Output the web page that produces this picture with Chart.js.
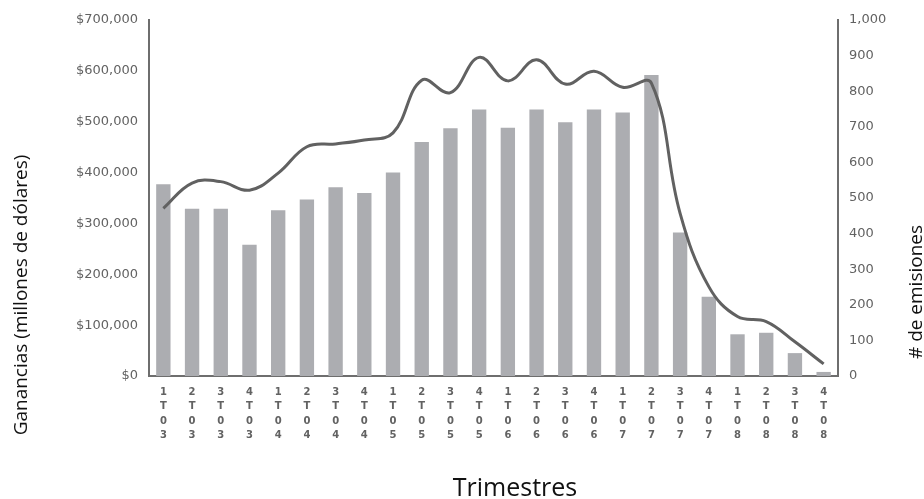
<!DOCTYPE html>
<html>
<head>
<meta charset="utf-8">
<script src="https://cdn.jsdelivr.net/npm/chart.js@4"></script>
<style>
  html, body { margin: 0; padding: 0; background: #fff; }
  canvas { display: block; }
</style>
</head>
<body>
<canvas id="chart" width="924" height="499"></canvas>
<script>
let trimestres = [
  "1T03", "2T03", "3T03", "4T03", "1T04", "2T04", "3T04", "4T04",
  "1T05", "2T05", "3T05", "4T05", "1T06", "2T06", "3T06", "4T06",
  "1T07", "2T07", "3T07", "4T07", "1T08", "2T08", "3T08", "4T08",
];
// ganancias en dólares (barras, eje izquierdo)
let ganancias = [
  377000, 329000, 329000, 258000, 326000, 347000, 371000, 360000,
  400000, 460000, 487000, 524000, 488000, 524000, 499000, 524000,
  518000, 592000, 282000, 156000, 82000, 85000, 45000, 8000,
];
// número de emisiones (línea, eje derecho)
let emisiones = [
  471, 542, 546, 522, 570, 644, 652, 663,
  683, 831, 796, 895, 829, 888, 820, 856,
  811, 823, 457, 251, 167, 153, 96, 34,
];
let ticksGanancias = [0, 100000, 200000, 300000, 400000, 500000, 600000, 700000];
let ticksEmisiones = [0, 100, 200, 300, 400, 500, 600, 700, 800, 900, 1000];

let tituloIzq = "Ganancias (millones de dólares)";
let tituloDer = "# de emisiones";
let tituloX = "Trimestres";

const axisColor = "#6e6e6e";
const tickColor = "#626262";

// each quarter label is stacked one character per line
const xLabels = trimestres.map((t) => t.split(""));

// axis titles sit apart from the plot, drawn after the chart
const axisTitles = {
  id: "axisTitles",
  afterDraw(chart) {
    const ctx = chart.ctx;
    ctx.save();
    ctx.fillStyle = "#111";
    ctx.font = "19px 'Open Sans'";
    ctx.textAlign = "center";
    ctx.textBaseline = "middle";

    ctx.save();
    ctx.translate(22, 295);
    ctx.rotate(-Math.PI / 2);
    ctx.fillText(tituloIzq, 0, 0);
    ctx.restore();

    ctx.save();
    ctx.translate(917, 292);
    ctx.rotate(-Math.PI / 2);
    ctx.fillText(tituloDer, 0, 0);
    ctx.restore();

    ctx.font = "25px 'Open Sans'";
    ctx.fillText(tituloX, 515, 489);
    ctx.restore();
  },
};

new Chart(document.getElementById("chart"), {
  type: "bar",
  data: {
    labels: xLabels,
    datasets: [
      {
        type: "line",
        label: tituloDer,
        data: emisiones,
        yAxisID: "y1",
        borderColor: "#616161",
        borderWidth: 3,
        pointRadius: 0,
        tension: 0.4,
        fill: false,
        order: 0,
      },
      {
        type: "bar",
        label: tituloIzq,
        data: ganancias,
        yAxisID: "y",
        backgroundColor: "#acadb1",
        borderWidth: 0,
        barPercentage: 0.5,
        categoryPercentage: 1.0,
        order: 1,
      },
    ],
  },
  options: {
    responsive: false,
    animation: false,
    layout: { padding: { top: 20, left: 0, right: 0, bottom: 0 } },
    plugins: {
      legend: { display: false },
      tooltip: { enabled: false },
    },
    scales: {
      x: {
        grid: { display: false, drawTicks: false },
        border: { display: true, color: axisColor, width: 2 },
        ticks: {
          color: tickColor,
          font: { family: "'DejaVu Sans'", size: 10, weight: "bold", lineHeight: 1.45 },
          padding: 9,
          maxRotation: 0,
          autoSkip: false,
        },
        afterFit: (scale) => {
          scale.height = 123;
        },
      },
      y: {
        position: "left",
        min: 0,
        max: 700000,
        grid: { display: false, drawTicks: false },
        border: { display: true, color: axisColor, width: 2 },
        afterBuildTicks: (scale) => {
          scale.ticks = ticksGanancias.map((v) => ({ value: v }));
        },
        ticks: {
          color: tickColor,
          font: { family: "'DejaVu Sans'", size: 13 },
          padding: 11,
          callback: (v) => "$" + v.toLocaleString("en-US"),
        },
        afterFit: (scale) => {
          scale.width = 149;
        },
      },
      y1: {
        position: "right",
        min: 0,
        max: 1000,
        grid: { display: false, drawTicks: false },
        border: { display: true, color: axisColor, width: 2 },
        afterBuildTicks: (scale) => {
          scale.ticks = ticksEmisiones.map((v) => ({ value: v }));
        },
        ticks: {
          color: tickColor,
          font: { family: "'DejaVu Sans'", size: 13 },
          padding: 11,
          callback: (v) => v.toLocaleString("en-US"),
        },
        afterFit: (scale) => {
          scale.width = 86;
        },
      },
    },
  },
  plugins: [axisTitles],
});
</script>
</body>
</html>
